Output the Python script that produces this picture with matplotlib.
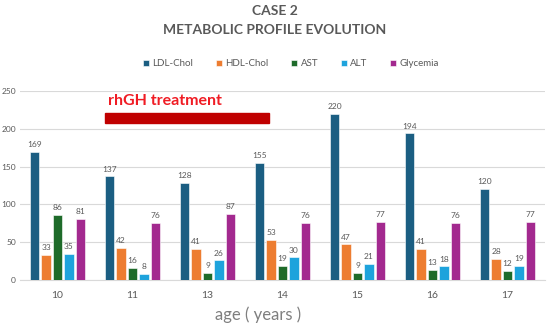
import numpy as np
import matplotlib.pyplot as plt
from matplotlib.patches import Rectangle

plt.rcParams['font.family'] = ['Lato', 'DejaVu Sans']

ages = ['10', '11', '13', '14', '15', '16', '17']
series = ['LDL-Chol', 'HDL-Chol', 'AST', 'ALT', 'Glycemia']
ldl = [169, 137, 128, 155, 220, 194, 120]
hdl = [33, 42, 41, 53, 47, 41, 28]
ast = [86, 16, 9, 19, 9, 13, 12]
alt = [35, 8, 26, 30, 21, 18, 19]
gly = [81, 76, 87, 76, 77, 76, 77]
colors = ['#1b5e82', '#ed7d31', '#1e6b2a', '#1ea3dc', '#a3298f']

fig = plt.figure(figsize=(5.5, 3.28), dpi=100)
ax = fig.add_axes([20/550, 1-280/328, 525/550, 189/328])

x = np.arange(len(ages))
w = 0.127
step = 0.153
gray = '#595959'
for k, (vals, name) in enumerate(zip([ldl, hdl, ast, alt, gly], series)):
    pos = x + (k-2)*step
    ax.bar(pos, vals, w, color=colors[k], edgecolor='white', linewidth=0.4,
           label=name, zorder=3)
    for p, v in zip(pos, vals):
        ax.text(p, v+5, str(v), ha='center', va='bottom', fontsize=6, color=gray)

ax.set_xlim(-0.5, 6.5)
ax.set_ylim(0, 250)
ax.set_yticks(range(0, 251, 50))
ax.set_xticks(x)
ax.set_xticklabels(ages)
ax.tick_params(axis='y', length=0, pad=3, labelsize=6, labelcolor=gray)
ax.tick_params(axis='x', length=0, pad=8, labelsize=7.5, labelcolor=gray)
ax.grid(axis='y', color='#d9d9d9', linewidth=0.8, zorder=0)
for s in ['top', 'right', 'left']:
    ax.spines[s].set_visible(False)
ax.spines['bottom'].set_color('#d9d9d9')

# treatment period
ax.add_patch(Rectangle((0.633, 207.7), 2.19, 13.6, color='#c00000', zorder=4))
ax.text(0.68, 231.5, 'rhGH treatment', color='#f01c24', fontsize=11.5,
        fontweight='bold', va='baseline', ha='left')

fig.text(0.5, 1-11/328, 'CASE 2', ha='center', va='center', fontsize=10,
         fontweight='bold', color=gray)
fig.text(0.5, 1-30/328, 'METABOLIC PROFILE EVOLUTION', ha='center', va='center',
         fontsize=10, fontweight='bold', color=gray)
fig.text(258/550, 1-315/328, 'age ( years )', ha='center', va='center',
         fontsize=12, color='#7f7f7f')

fig.legend(loc='center', bbox_to_anchor=(291/550, 1-64/328), ncol=5,
           frameon=False, fontsize=7, handlelength=0.6, handleheight=0.6,
           handletextpad=0.4, columnspacing=2.3, labelcolor=gray)

fig.savefig('out.png', dpi=100)
